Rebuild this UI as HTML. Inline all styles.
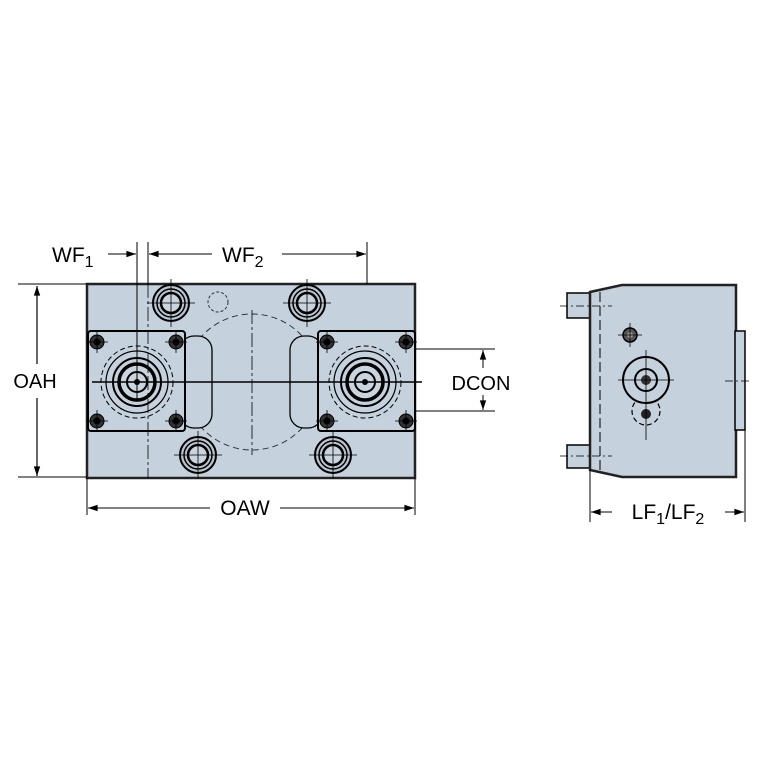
<!DOCTYPE html>
<html><head><style>body{margin:0;background:#fff}svg{display:block}</style></head><body>
<svg width="767" height="767" viewBox="0 0 767 767" xmlns="http://www.w3.org/2000/svg" font-family="Liberation Sans, sans-serif">
<defs>
<marker id="a" viewBox="0 0 12 10" refX="12" refY="5" markerWidth="13" markerHeight="8" orient="auto-start-reverse" markerUnits="userSpaceOnUse"><path d="M0,1 L12,5 L0,9 z" fill="#000"/></marker>
<g id="cb"><circle r="18" fill="#b8c4cf" stroke="#000" stroke-width="2"/><circle r="14" fill="none" stroke="#000" stroke-width="1.5"/><circle r="10" fill="#c9d4de" stroke="#000" stroke-width="2.5"/><path d="M-24,0H24M0,-24V24" stroke="#000" stroke-width=".8"/></g>
<g id="bt"><circle r="7" fill="#333" stroke="#000"/><circle r="3.5" fill="#000"/><path d="M-11,0H11M0,-11V11" stroke="#000" stroke-width=".8"/></g>
<g id="fl"><circle r="36" fill="none" stroke="#000" stroke-width="1" stroke-dasharray="5 3"/><circle r="31" fill="none" stroke="#000" stroke-width="1.2"/><circle r="24" fill="none" stroke="#000" stroke-width="2"/><circle r="18" fill="#c9d4de" stroke="#000" stroke-width="3.5"/><circle r="10" fill="#c9d4de" stroke="#000" stroke-width="2"/><circle r="3" fill="#000"/></g>
</defs>
<rect x="87" y="284" width="328" height="194" fill="#c5d1dc" stroke="#222" stroke-width="2.5"/>
<circle cx="252" cy="382" r="68" fill="none" stroke="#333" stroke-width="1" stroke-dasharray="6 4"/>
<circle cx="218" cy="302" r="10" fill="none" stroke="#333" stroke-width="1" stroke-dasharray="3 2"/>
<rect x="180" y="336" width="32" height="92" rx="14" fill="#c5d1dc" stroke="#000" stroke-width="1.3"/>
<rect x="290" y="336" width="32" height="92" rx="14" fill="#c5d1dc" stroke="#000" stroke-width="1.3"/>
<rect x="88" y="331" width="97" height="100" rx="3" fill="#c5d1dc" stroke="#000" stroke-width="2"/>
<rect x="318" y="331" width="97" height="100" rx="3" fill="#c5d1dc" stroke="#000" stroke-width="2"/>
<use href="#fl" x="137" y="382"/><use href="#fl" x="365" y="382"/>
<use href="#bt" x="97" y="342"/><use href="#bt" x="176" y="342"/><use href="#bt" x="97" y="421"/><use href="#bt" x="176" y="421"/>
<use href="#bt" x="327" y="342"/><use href="#bt" x="406" y="342"/><use href="#bt" x="327" y="421"/><use href="#bt" x="406" y="421"/>
<use href="#cb" x="171" y="303"/><use href="#cb" x="307" y="303"/><use href="#cb" x="198" y="455"/><use href="#cb" x="333" y="455"/>
<path d="M92,382H422" stroke="#000" stroke-width="1.6"/>
<path d="M252,310V455M148,284V478" stroke="#000" stroke-width=".8" stroke-dasharray="14 3 3 3"/>
<path d="M137,242V400M148,242V284M367,242V284" stroke="#000" stroke-width="1"/>
<path d="M108,254H136" stroke="#000" stroke-width="1" marker-end="url(#a)"/>
<path d="M212,254H149" stroke="#000" stroke-width="1" marker-end="url(#a)"/>
<path d="M282,254H366" stroke="#000" stroke-width="1" marker-end="url(#a)"/>
<text x="52" y="262" font-size="21">WF<tspan font-size="16" dy="5">1</tspan></text>
<text x="222" y="262" font-size="21">WF<tspan font-size="16" dy="5">2</tspan></text>
<path d="M18,284H87M18,477H87" stroke="#000" stroke-width="1"/>
<path d="M37,364V286" stroke="#000" stroke-width="1.2" marker-end="url(#a)"/>
<path d="M37,398V476" stroke="#000" stroke-width="1.2" marker-end="url(#a)"/>
<text x="35" y="388" font-size="20" text-anchor="middle">OAH</text>
<path d="M87,478V515M415,478V515" stroke="#000" stroke-width="1"/>
<path d="M210,508H88" stroke="#000" stroke-width="1" marker-end="url(#a)"/>
<path d="M280,508H414" stroke="#000" stroke-width="1" marker-end="url(#a)"/>
<text x="245" y="515" font-size="21" text-anchor="middle">OAW</text>
<path d="M415,349H495M415,411H495" stroke="#000" stroke-width="1"/>
<path d="M483,368V350" stroke="#000" stroke-width="1" marker-end="url(#a)"/>
<path d="M483,395V410" stroke="#000" stroke-width="1" marker-end="url(#a)"/>
<text x="481" y="390" font-size="20" text-anchor="middle">DCON</text>
<rect x="567" y="293" width="24" height="25" fill="#c5d1dc" stroke="#000" stroke-width="1.5"/>
<rect x="567" y="445" width="24" height="23" fill="#c5d1dc" stroke="#000" stroke-width="1.5"/>
<path d="M590,292L622,285H736V477H622L590,470Z" fill="#c5d1dc" stroke="#222" stroke-width="2.5"/>
<rect x="735" y="331" width="10" height="99" fill="#c5d1dc" stroke="#000" stroke-width="1.5"/>
<path d="M600,292V470" stroke="#000" stroke-width="1" stroke-dasharray="10 4"/>
<path d="M560,306H612M560,456H612M725,381H752" stroke="#000" stroke-width=".8" stroke-dasharray="8 3 2 3"/>
<circle cx="630" cy="335" r="7" fill="#555" stroke="#000" stroke-width="1.5"/>
<circle cx="630" cy="335" r="3" fill="#999"/>
<circle cx="646" cy="411" r="14" fill="none" stroke="#000" stroke-width="1.2" stroke-dasharray="5 3"/>
<circle cx="646" cy="380" r="23" fill="#c5d1dc" stroke="#000" stroke-width="2"/>
<circle cx="646" cy="380" r="11" fill="none" stroke="#000" stroke-width="2"/>
<circle cx="646" cy="380" r="5" fill="#333"/>
<circle cx="646" cy="414" r="5" fill="#222"/>
<path d="M618,380H674M646,350V440M618,335H642M630,323V347" stroke="#000" stroke-width=".8"/>
<path d="M590,470V522M745,430V522" stroke="#000" stroke-width="1"/>
<path d="M612,512H591" stroke="#000" stroke-width="1" marker-end="url(#a)"/>
<path d="M725,512H744" stroke="#000" stroke-width="1" marker-end="url(#a)"/>
<text x="668" y="519" font-size="21" text-anchor="middle">LF<tspan font-size="16" dy="5">1</tspan><tspan dy="-5">/LF</tspan><tspan font-size="16" dy="5">2</tspan></text>
</svg>
</body></html>
